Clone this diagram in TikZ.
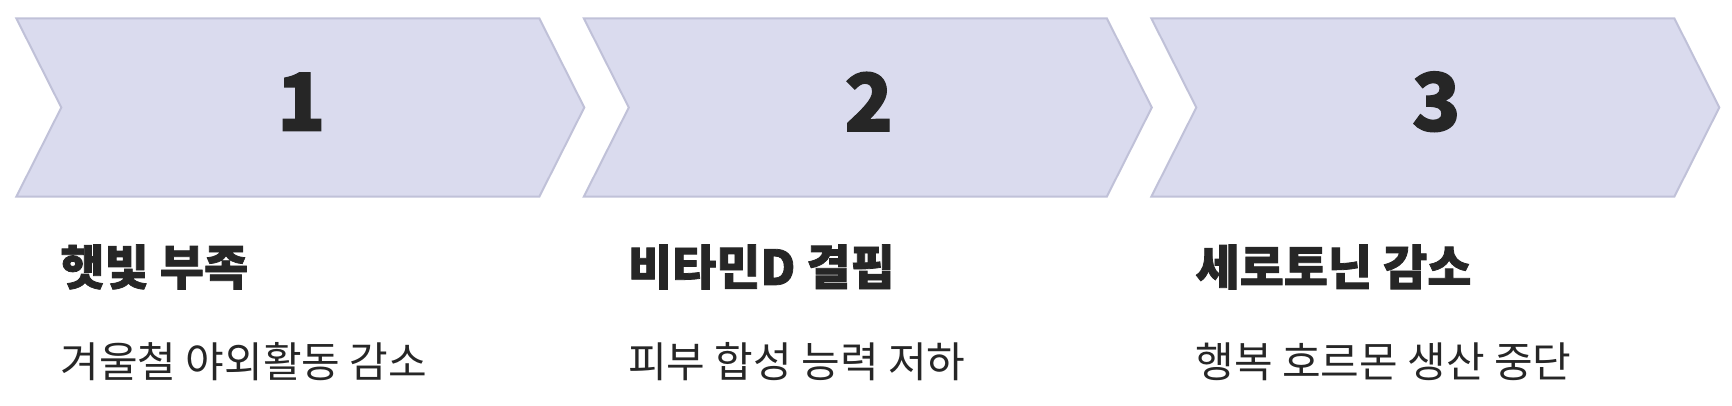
\documentclass[tikz,border=0pt]{standalone}
\usepackage{fontspec}
\newfontfamily\kr{Noto Sans CJK KR}
\newfontfamily\krblack{Noto Sans CJK KR Black}[FakeBold=1.6]
\definecolor{chevfill}{RGB}{218,219,238}
\definecolor{chevline}{RGB}{192,193,216}
\definecolor{ink}{RGB}{38,38,38}
\tikzset{
  chev/.style={fill=chevfill, draw=chevline, line width=2pt, line join=miter},
  numtext/.style={inner sep=0pt, text=ink, font=\krblack\fontsize{80}{90}\selectfont},
  titletext/.style={inner sep=0pt, anchor=west, text=ink, font=\krblack\fontsize{48}{56}\selectfont},
  subtext/.style={inner sep=0pt, anchor=west, text=ink, font=\kr\fontsize{42}{50}\selectfont},
}
\begin{document}
\begin{tikzpicture}[x=1pt,y=-1pt]
\useasboundingbox (0,0) rectangle (1732,406);
\foreach \i/\n/\t/\s in {0/1/햇빛 부족/겨울철 야외활동 감소, 1/2/비타민D 결핍/피부 합성 능력 저하, 2/3/세로토닌 감소/행복 호르몬 생산 중단}{
  \pgfmathsetmacro{\L}{16.3+567.5*\i}
  \draw[chev] (\L,18.3) -- ++(523,0) -- ++(45,89.2) -- ++(-45,89.2) -- ++(-523,0) -- ++(45,-89.2) -- cycle;
  \node[numtext] (num\n) at (\L+285,101.7) {\n};
  \node[titletext] (title\n) at (\L+44,267) {\t};
  \node[subtext] (sub\n) at (\L+44,362) {\s};
}
\end{tikzpicture}
\end{document}
